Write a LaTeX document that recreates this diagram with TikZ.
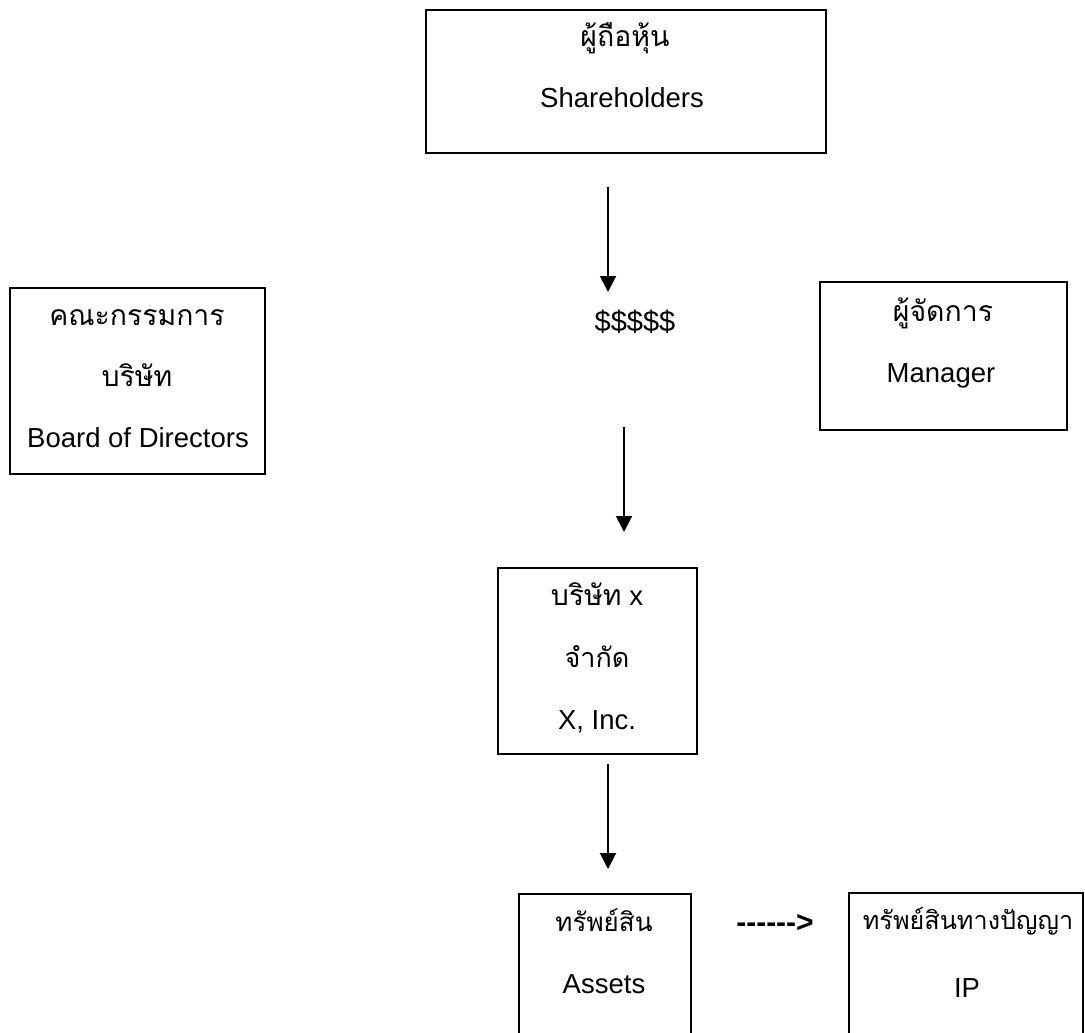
\documentclass[tikz,border=0pt]{standalone}
\usepackage{fontspec}
\setmainfont{Liberation Sans}[Ligatures=TeXOff]
\newfontfamily\thaifont[Script=Thai]{Loma}
\usetikzlibrary{arrows.meta}
\begin{document}
\begin{tikzpicture}[x=0.5pt,y=-0.5pt,
  box/.style={draw, line width=1pt, inner sep=0pt},
  en/.style={font=\fontsize{13.75}{16}\selectfont, anchor=base, inner sep=0pt},
  th/.style={font=\thaifont\fontsize{14.2}{16}\selectfont, anchor=base, inner sep=0pt},
  thsmall/.style={font=\thaifont\fontsize{13}{16}\selectfont, anchor=base, inner sep=0pt},
  arr/.style={line width=1pt, -{Triangle[width=8pt,length=8pt]}}]
\useasboundingbox (0,0) rectangle (1085,1032);
\clip (0,0) rectangle (1085,1032);
% boxes
\node[box, minimum width=200pt, minimum height=71.5pt] (sh) at (625.5,81.5) {};
\node[box, minimum width=127.5pt, minimum height=93pt] (bd) at (137.5,381) {};
\node[box, minimum width=123.5pt, minimum height=74pt] (mg) at (943.5,356) {};
\node[box, minimum width=99.75pt, minimum height=93.25pt] (xi) at (597.25,660.75) {};
\node[box, minimum width=85.75pt, minimum height=89.75pt] (as) at (604.75,983.25) {};
\node[box, minimum width=117.25pt, minimum height=90.25pt] (ip) at (965.75,982.75) {};
% texts
\node[th] (sh1) at (625,47) {ผู้ถือหุ้น};
\node[en] (sh2) at (622,108) {Shareholders};
\node[th] (bd1) at (137,325) {คณะกรรมการ};
\node[th] (bd2) at (137,386) {บริษัท};
\node[en] (bd3) at (138,447) {Board of Directors};
\node[th] (mg1) at (943,321) {ผู้จัดการ};
\node[en] (mg2) at (941,382) {Manager};
\node[en, font=\fontsize{14.5}{16}\selectfont] (money) at (635,331) {\$\$\$\$\$};
\node[en] (xi1) at (597,605) {{\thaifont\fontsize{14.2}{16}\selectfont บริษัท} x};
\node[th, font=\thaifont\fontsize{13.5}{16}\selectfont] (xi2) at (597,667) {จำกัด};
\node[en] (xi3) at (597,729) {X, Inc.};
\node[thsmall] (as1) at (604,931) {ทรัพย์สิน};
\node[en] (as2) at (604,993) {Assets};
\node[thsmall, font=\thaifont\fontsize{12.6}{16}\selectfont] (ip1) at (968,929) {ทรัพย์สินทางปัญญา};
\node[en] (ip2) at (967,997) {IP};
\node[en, font=\bfseries\fontsize{15}{16}\selectfont] (dash) at (775,932) {------>};
% arrow end points
\coordinate (a1s) at (608,187);
\coordinate (a1e) at (608,292);
\coordinate (a2s) at (624,427);
\coordinate (a2e) at (624,532);
\coordinate (a3s) at (608,764);
\coordinate (a3e) at (608,869);
\draw[arr] (a1s) -- (a1e);
\draw[arr] (a2s) -- (a2e);
\draw[arr] (a3s) -- (a3e);
\end{tikzpicture}
\end{document}
